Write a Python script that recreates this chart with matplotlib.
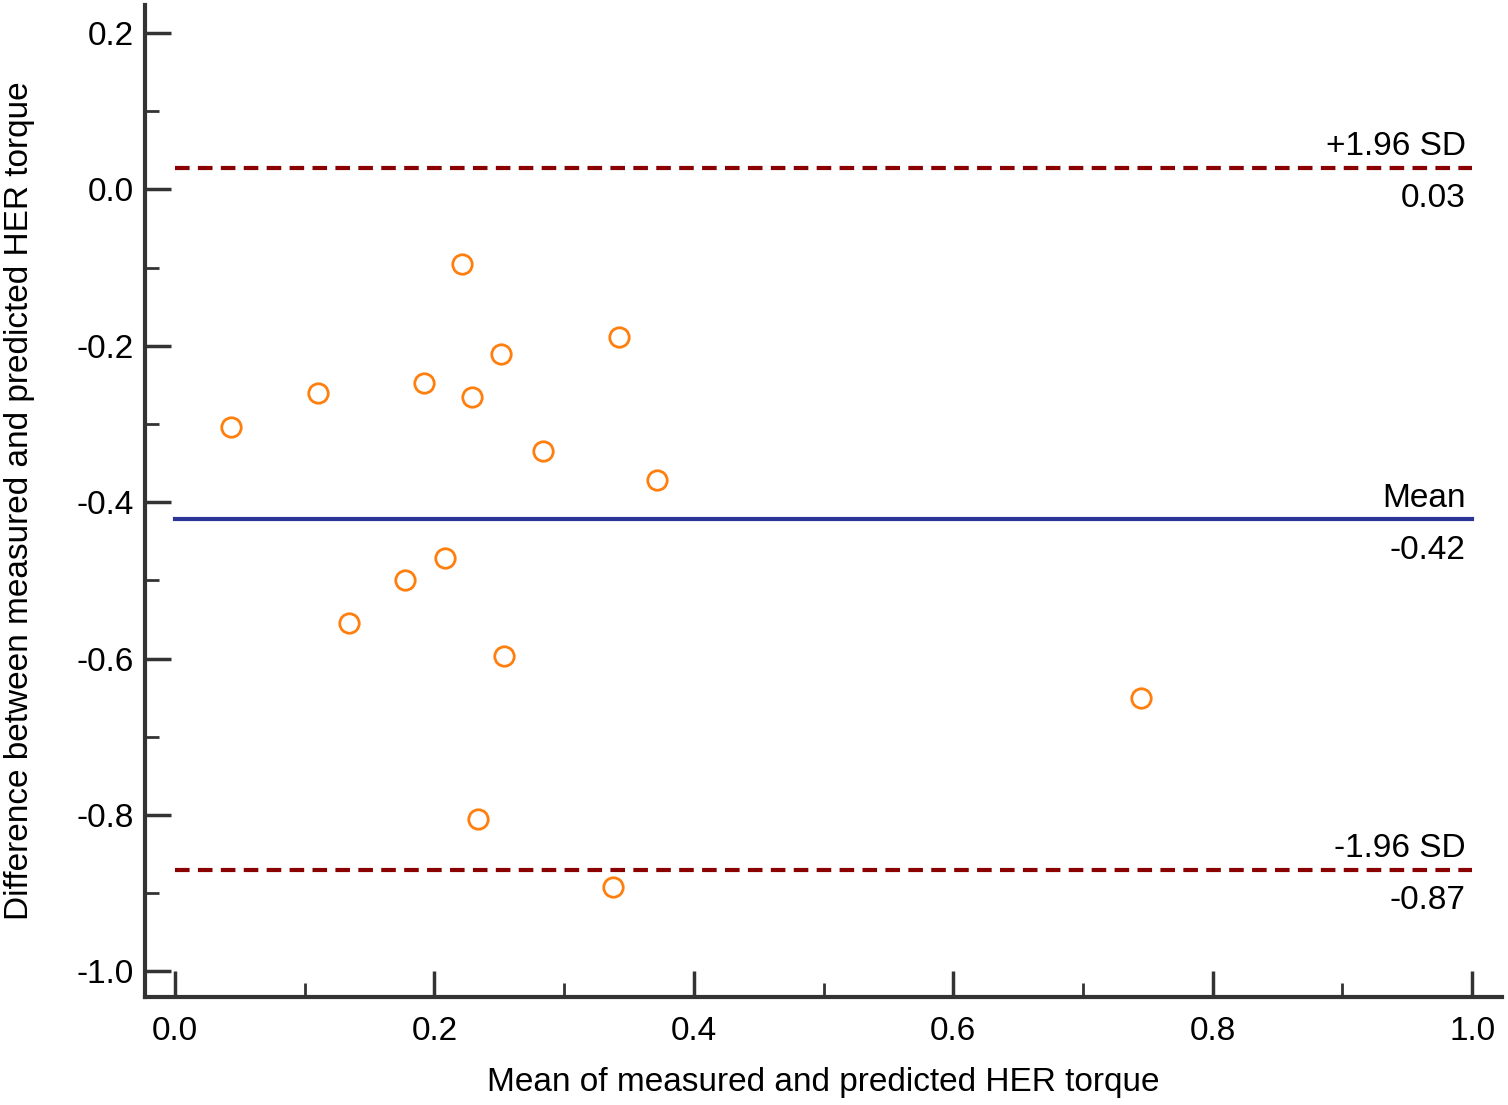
import matplotlib.pyplot as plt
from matplotlib.ticker import MultipleLocator

plt.rcParams['font.family'] = ['Liberation Sans', 'DejaVu Sans']

# data
mean_vals = [0.043, 0.110, 0.134, 0.177, 0.192, 0.208, 0.221, 0.229,
             0.234, 0.251, 0.254, 0.284, 0.338, 0.342, 0.372, 0.745]
diff_vals = [-0.304, -0.260, -0.555, -0.500, -0.248, -0.471, -0.095, -0.266,
             -0.805, -0.211, -0.597, -0.334, -0.892, -0.189, -0.371, -0.650]
bias = -0.422
upper = 0.028
lower = -0.870
x_ticks = [0.0, 0.2, 0.4, 0.6, 0.8, 1.0]
y_ticks = [0.2, 0.0, -0.2, -0.4, -0.6, -0.8, -1.0]

fig = plt.figure(figsize=(15.08, 11.05), dpi=100)
ax = fig.add_axes([0.0962, 0.0977, 0.8998, 0.8978])

ax.plot(mean_vals, diff_vals, 'o', ms=14, mfc='none', mec='#FF7F0E', mew=2)

ax.plot([0, 1], [bias, bias], color='#2B3595', lw=3)
ax.plot([0, 1], [upper, upper], color='#8B0000', lw=3, ls=(0, (3.5, 2)))
ax.plot([0, 1], [lower, lower], color='#8B0000', lw=3, ls=(0, (3.5, 2)))

fs = 24
ax.text(0.995, upper + 0.007, '+1.96 SD', ha='right', va='bottom', fontsize=fs)
ax.text(0.995, upper - 0.020, '%.2f' % upper, ha='right', va='top', fontsize=fs)
ax.text(0.995, bias + 0.007, 'Mean', ha='right', va='bottom', fontsize=fs)
ax.text(0.995, bias - 0.020, '%.2f' % bias, ha='right', va='top', fontsize=fs)
ax.text(0.995, lower + 0.007, '-1.96 SD', ha='right', va='bottom', fontsize=fs)
ax.text(0.995, lower - 0.020, '%.2f' % lower, ha='right', va='top', fontsize=fs)

ax.set_xlim(-0.023, 1.023)
ax.set_ylim(-1.033, 0.236)
ax.set_xticks(x_ticks)
ax.set_yticks(y_ticks)
ax.set_xticklabels(['%.1f' % v for v in x_ticks])
ax.set_yticklabels(['%.1f' % v for v in y_ticks])
ax.xaxis.set_minor_locator(MultipleLocator(0.1))
ax.yaxis.set_minor_locator(MultipleLocator(0.1))

for s in ['top', 'right']:
    ax.spines[s].set_visible(False)
for s in ['left', 'bottom']:
    ax.spines[s].set_color('#333333')
    ax.spines[s].set_linewidth(3)

ax.tick_params(which='major', direction='in', length=19, width=2.5, color='#333333',
               labelsize=fs)
ax.tick_params(axis='x', which='major', pad=14)
ax.tick_params(axis='y', which='major', pad=8)
ax.tick_params(which='minor', direction='in', length=10, width=2, color='#333333')

ax.set_xlabel('Mean of measured and predicted HER torque', fontsize=fs, labelpad=14)
ax.set_ylabel('Difference between measured and predicted HER torque', fontsize=fs, labelpad=30)

fig.savefig('out.png', dpi=100)
